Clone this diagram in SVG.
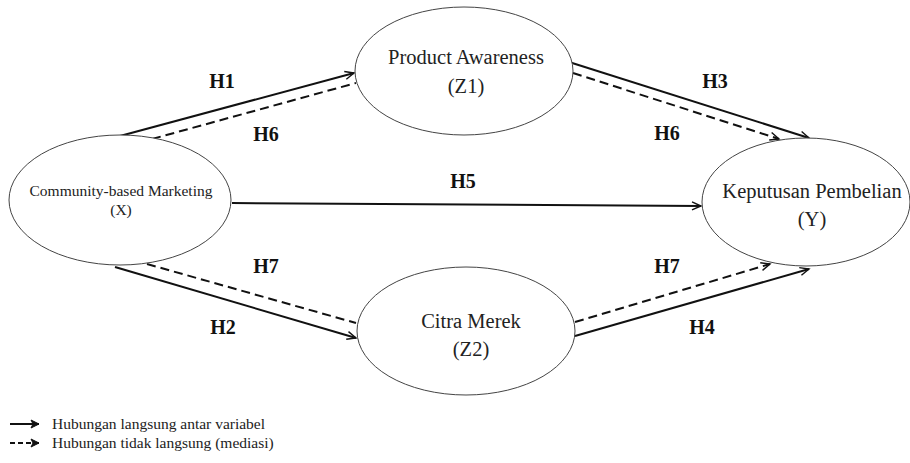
<svg xmlns="http://www.w3.org/2000/svg" width="910" height="463" viewBox="0 0 910 463">
<defs>
<marker id="arr" markerWidth="12" markerHeight="10" refX="10" refY="5" orient="auto" markerUnits="userSpaceOnUse">
<path d="M1,1 L10,5 L1,9" fill="none" stroke="#111" stroke-width="1.4"/>
</marker>
<marker id="arrL" markerWidth="12" markerHeight="10" refX="10" refY="5" orient="auto" markerUnits="userSpaceOnUse">
<path d="M2,1 L10,5 L2,9 L4,5 Z" fill="#111" stroke="#111" stroke-width="1"/>
</marker>
</defs>
<style>
.node ellipse{fill:#fff;stroke:#444;stroke-width:1}
.nt{font-family:"Liberation Serif","DejaVu Serif",serif;fill:#222;text-anchor:middle}
.lab{font-family:"Liberation Serif","DejaVu Serif",serif;font-weight:bold;font-size:20px;fill:#111;text-anchor:middle}
.s{fill:none;stroke:#111;stroke-width:2}
.d{fill:none;stroke:#111;stroke-width:2;stroke-dasharray:9,5}
.leg{font-family:"Liberation Serif","DejaVu Serif",serif;font-size:15.5px;fill:#222}
</style>
<rect width="910" height="463" fill="#fff"/>
<g id="connectors">
<line class="s" x1="120" y1="136" x2="354" y2="73" marker-end="url(#arr)"/>
<line class="d" x1="152" y1="139" x2="356" y2="83"/>
<line class="s" x1="569" y1="62" x2="809" y2="138" marker-end="url(#arr)"/>
<line class="d" x1="573" y1="73" x2="779" y2="139" marker-end="url(#arr)"/>
<line class="s" x1="232" y1="203" x2="701" y2="206" marker-end="url(#arr)"/>
<line class="s" x1="115" y1="267" x2="356" y2="338" marker-end="url(#arr)"/>
<line class="d" x1="147" y1="264" x2="356" y2="323"/>
<line class="s" x1="575" y1="336" x2="809" y2="269" marker-end="url(#arr)"/>
<line class="d" x1="575" y1="322" x2="770" y2="264" marker-end="url(#arr)"/>
</g>
<g id="X" class="node">
<ellipse cx="120" cy="200" rx="111" ry="65"/>
<text class="nt" x="121" y="196" font-size="15.5">Community-based Marketing</text>
<text class="nt" x="121" y="215" font-size="15.5">(X)</text>
</g>
<g id="Z1" class="node">
<ellipse cx="464" cy="71" rx="109" ry="64"/>
<text class="nt" x="466" y="64" font-size="20.5">Product Awareness</text>
<text class="nt" x="466" y="93" font-size="20.5">(Z1)</text>
</g>
<g id="Z2" class="node">
<ellipse cx="466" cy="331" rx="109" ry="64"/>
<text class="nt" x="471" y="328" font-size="20.5">Citra Merek</text>
<text class="nt" x="471" y="356" font-size="20.5">(Z2)</text>
</g>
<g id="Y" class="node">
<ellipse cx="806" cy="202" rx="104" ry="64"/>
<text class="nt" x="812" y="198" font-size="20.5">Keputusan Pembelian</text>
<text class="nt" x="812" y="226" font-size="20.5">(Y)</text>
</g>
<g id="labels">
<text class="lab" x="222" y="88">H1</text>
<text class="lab" x="266" y="141">H6</text>
<text class="lab" x="715" y="88">H3</text>
<text class="lab" x="667" y="140">H6</text>
<text class="lab" x="463" y="188">H5</text>
<text class="lab" x="266" y="273">H7</text>
<text class="lab" x="223" y="334">H2</text>
<text class="lab" x="667" y="273">H7</text>
<text class="lab" x="702" y="334">H4</text>
</g>
<g id="legend">
<line x1="10" y1="424" x2="39" y2="424" stroke="#111" stroke-width="2" marker-end="url(#arrL)"/>
<text class="leg" x="52" y="429">Hubungan langsung antar variabel</text>
<line x1="10" y1="443" x2="39" y2="443" stroke="#111" stroke-width="2" stroke-dasharray="5,3" marker-end="url(#arrL)"/>
<text class="leg" x="52" y="448">Hubungan tidak langsung (mediasi)</text>
</g>
</svg>
